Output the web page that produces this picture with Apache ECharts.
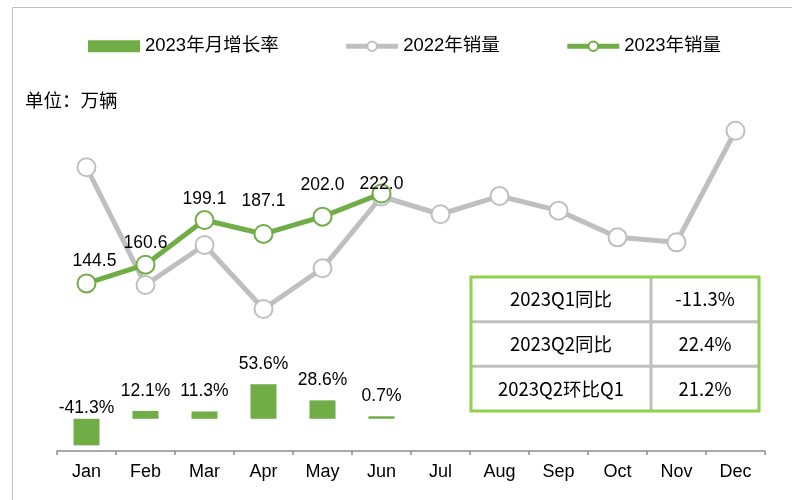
<!DOCTYPE html>
<html>
<head>
<meta charset="utf-8">
<title>2023年销量</title>
<script src="https://cdn.jsdelivr.net/npm/echarts@6/dist/echarts.min.js"></script>
<style>
  html, body { margin: 0; padding: 0; background: #fff; }
  #chart { width: 792px; height: 500px; }
</style>
</head>
<body>
<div id="chart"></div>
<script>
// 数据
const months = ['Jan', 'Feb', 'Mar', 'Apr', 'May', 'Jun', 'Jul', 'Aug', 'Sep', 'Oct', 'Nov', 'Dec']
const sales2022 = [244.6, 143.1, 177.6, 122.4, 157.5, 219.4, 204.1, 219.8, 207.2, 184.2, 179.9, 276.1]
const sales2023 = [144.5, 160.6, 199.1, 187.1, 202.0, 222.0]
const growth2023 = [-41.3, 12.1, 11.3, 53.6, 28.6, 0.7]
const tableLabels = ['2023Q1同比', '2023Q2同比', '2023Q2环比Q1']
const tableValues = ['-11.3%', '22.4%', '21.2%']

// 标签微调（像素）
const labelNudge = [[8, 2], [0, 2], [0, 3], [0, -9], [0, -8], [0, 14]]

const GREEN = '#70AD47'
const GRAY = '#BFBFBF'
const LATIN = "'Liberation Sans', 'Noto Sans CJK SC', sans-serif"
const CJK = "'Noto Sans CJK SC', sans-serif"

// 表格
const tbl = { x: 471, y: 277, w: 288, h: 134, split: 180 }
const rowH = tbl.h / tableLabels.length
const tableGraphics = []
for (let i = 1; i < tableLabels.length; i++) {
  tableGraphics.push({
    type: 'line',
    shape: { x1: tbl.x, y1: tbl.y + rowH * i, x2: tbl.x + tbl.w, y2: tbl.y + rowH * i },
    style: { stroke: GRAY, lineWidth: 3 }
  })
}
tableGraphics.push({
  type: 'line',
  shape: { x1: tbl.x + tbl.split, y1: tbl.y, x2: tbl.x + tbl.split, y2: tbl.y + tbl.h },
  style: { stroke: GRAY, lineWidth: 3 }
})
tableGraphics.push({
  type: 'rect',
  shape: { x: tbl.x, y: tbl.y, width: tbl.w, height: tbl.h },
  style: { fill: null, stroke: '#92D050', lineWidth: 3 }
})
tableLabels.forEach((label, i) => {
  const cy = tbl.y + rowH * (i + 0.5)
  tableGraphics.push({
    type: 'text',
    x: tbl.x + tbl.split / 2,
    y: cy,
    style: { text: label, fill: '#000', font: '18.5px ' + CJK, align: 'center', verticalAlign: 'middle' }
  })
  tableGraphics.push({
    type: 'text',
    x: tbl.x + tbl.split + (tbl.w - tbl.split) / 2,
    y: cy,
    style: { text: tableValues[i], fill: '#000', font: '18.5px ' + CJK, align: 'center', verticalAlign: 'middle' }
  })
})

const chart = echarts.init(document.getElementById('chart'))

const option = {
  animation: false,
  backgroundColor: '#fff',
  textStyle: { fontFamily: LATIN },
  title: {
    text: '单位：万辆',
    left: 20,
    top: 88,
    textStyle: { fontSize: 18.5, fontWeight: 'normal', color: '#000', fontFamily: LATIN }
  },
  legend: {
    left: 83,
    top: 32,
    itemWidth: 52,
    itemHeight: 12,
    itemGap: 65,
    lineStyle: { width: 5 },
    textStyle: { fontSize: 18.5, color: '#000', fontFamily: LATIN },
    data: [
      { name: '2023年月增长率', icon: 'rect' },
      '2022年销量',
      '2023年销量'
    ]
  },
  grid: { left: 57, right: 27, top: 103, bottom: 49 },
  xAxis: {
    type: 'category',
    data: months,
    boundaryGap: true,
    axisLine: { lineStyle: { color: '#8C8C8C', width: 1.5 } },
    axisTick: { show: true, length: 4, lineStyle: { color: '#8C8C8C', width: 1.5 } },
    axisLabel: { color: '#000', fontSize: 18, margin: 12, fontFamily: LATIN }
  },
  yAxis: [
    { type: 'value', min: 0, max: 300, show: false, splitLine: { show: false } },
    { type: 'value', min: -50, max: 490, show: false, splitLine: { show: false } }
  ],
  graphic: [
    {
      type: 'rect',
      silent: true,
      shape: { x: 12.5, y: 7.5, width: 820, height: 520 },
      style: { fill: null, stroke: GRAY, lineWidth: 1 }
    },
    { type: 'group', children: tableGraphics }
  ],
  series: [
    {
      name: '2023年月增长率',
      type: 'bar',
      yAxisIndex: 1,
      barWidth: 26,
      barMinHeight: 2.5,
      itemStyle: { color: GREEN },
      data: growth2023.map(v => ({
        value: v,
        label: { distance: v < 0 ? 1.5 : 11.5 }
      })),
      label: {
        show: true,
        position: 'top',
        color: '#000',
        fontSize: 17.5,
        fontFamily: LATIN,
        formatter: p => p.value.toFixed(1) + '%'
      }
    },
    {
      name: '2022年销量',
      type: 'line',
      data: sales2022,
      symbol: 'circle',
      symbolSize: 18,
      z: 3,
      lineStyle: { color: GRAY, width: 5 },
      itemStyle: { color: '#fff', borderColor: GRAY, borderWidth: 2 }
    },
    {
      name: '2023年销量',
      type: 'line',
      data: sales2023.map((v, i) => ({
        value: v,
        label: { offset: labelNudge[i] }
      })),
      symbol: 'circle',
      symbolSize: 18,
      z: 4,
      lineStyle: { color: GREEN, width: 5 },
      itemStyle: { color: '#fff', borderColor: GREEN, borderWidth: 2 },
      label: {
        show: true,
        position: 'top',
        color: '#000',
        fontSize: 17.5,
        fontFamily: LATIN,
        formatter: p => p.value.toFixed(1)
      }
    }
  ]
}

chart.setOption(option)
</script>
</body>
</html>
